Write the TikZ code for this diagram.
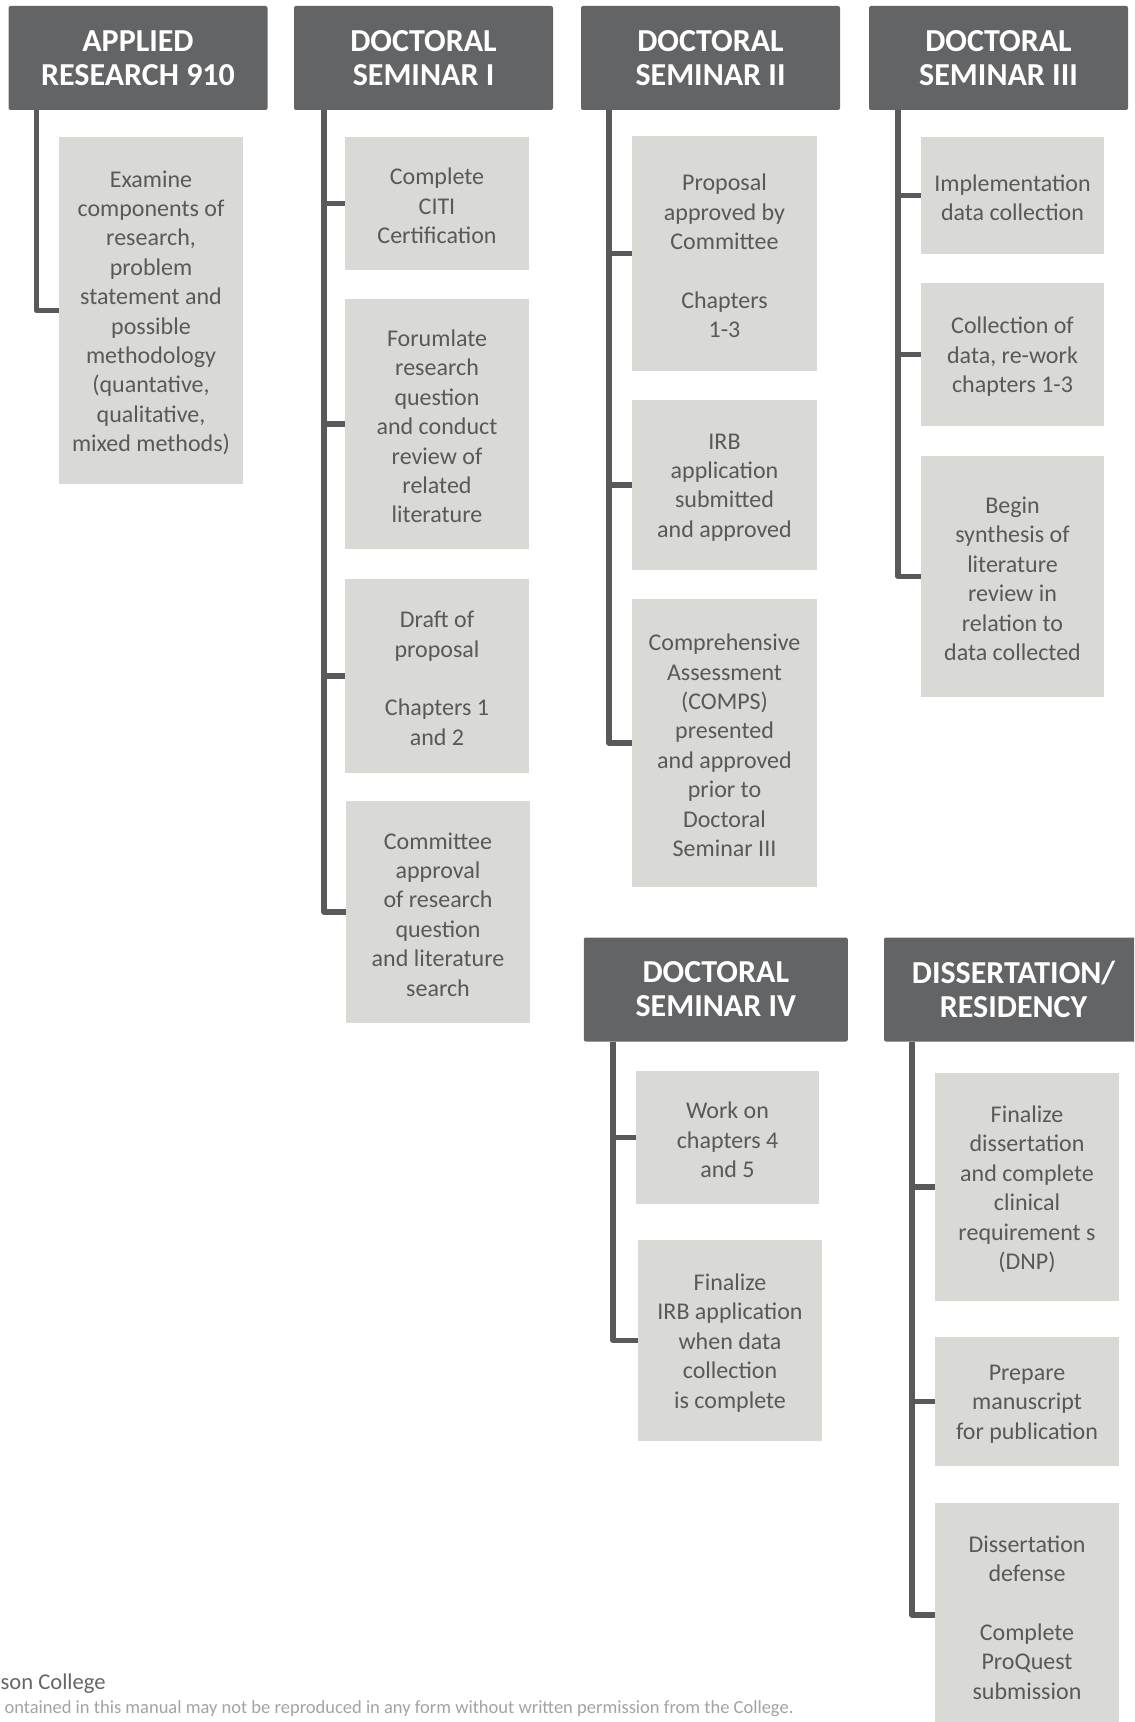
\documentclass[tikz,border=0pt]{standalone}
\usepackage{fontspec}
\setmainfont{Carlito}
\definecolor{hdrgray}{HTML}{636466}
\definecolor{boxgray}{HTML}{D9D9D6}
\definecolor{txtgray}{HTML}{595959}
\definecolor{linegray}{HTML}{58595B}
\definecolor{footgray}{HTML}{A3A3A3}
\definecolor{foot1gray}{HTML}{666666}
\newcommand\stepitem[6]{%
  \node[item, minimum width=#4, minimum height=#5] (#1) at (#2,#3) {};
  \node[itemtxt] (#1t) at ([yshift=-1.2pt]#1.center) {#6};}
\begin{document}
\begin{tikzpicture}[x=0.5pt,y=-0.5pt,
  hdr/.style={fill=hdrgray, text=white, font=\bfseries\fontsize{16}{17}\selectfont, align=center,
    minimum width=129.5pt, minimum height=52pt, rounded corners=1pt, inner sep=0pt},
  item/.style={fill=boxgray, inner sep=0pt},
  itemtxt/.style={text=txtgray, font=\fontsize{12}{14.7}\selectfont, align=center, inner sep=0pt},
  conn/.style={draw=linegray, line width=2.6pt, line join=round},
  foot/.style={anchor=base east, inner sep=0pt}]
\clip (0,0) rectangle (1134,1722);
\fill[white] (0,0) rectangle (1134,1722);

% headers
\node[hdr] (h1) at (138,58) {APPLIED\\RESEARCH 910};
\node[hdr] (h2) at (423.5,58) {DOCTORAL\\SEMINAR I};
\node[hdr] (h3) at (710.5,58) {DOCTORAL\\SEMINAR II};
\node[hdr] (h4) at (998.5,58) {DOCTORAL\\SEMINAR III};
\node[hdr, minimum width=132pt] (h5) at (715.8,989.5) {DOCTORAL\\SEMINAR IV};
\node[hdr] (h6) at (1013.5,989.5) {DISSERTATION/\\RESIDENCY};

% items
\stepitem{b1}{151}{310.5}{92pt}{173.5pt}{Examine\\components of\\research,\\problem\\statement and\\possible\\methodology\\(quantative,\\qualitative,\\mixed methods)}

\stepitem{b2a}{437}{203.5}{92pt}{66.5pt}{Complete\\CITI\\Certification}
\stepitem{b2b}{437}{424}{92pt}{125pt}{Forumlate\\research\\question\\and conduct\\review of\\related\\literature}
\stepitem{b2c}{437}{676}{92pt}{97pt}{Draft of\\proposal\\[14.7pt]Chapters 1\\and 2}
\stepitem{b2d}{438}{912}{92pt}{111pt}{Committee\\approval\\of research\\question\\and literature\\search}

\stepitem{b3a}{724.5}{253.5}{92.5pt}{117.5pt}{Proposal\\approved by\\Committee\\[14.7pt]Chapters\\1-3}
\stepitem{b3b}{724.5}{485}{92.5pt}{85pt}{IRB\\application\\submitted\\and approved}
\stepitem{b3c}{724.5}{743}{92.5pt}{144pt}{Comprehensive\\Assessment\\(COMPS)\\presented\\and approved\\prior to\\Doctoral\\Seminar III}

\stepitem{b4a}{1012.5}{195.5}{91.5pt}{58.5pt}{Implementation\\data collection}
\stepitem{b4b}{1012.5}{354.5}{91.5pt}{71.5pt}{Collection of\\data, re-work\\chapters 1-3}
\stepitem{b4c}{1012.5}{576.5}{91.5pt}{120.5pt}{Begin\\synthesis of\\literature\\review in\\relation to\\data collected}

\stepitem{b5a}{727.5}{1137.5}{91.5pt}{66.5pt}{Work on\\chapters 4\\and 5}
\stepitem{b5b}{730}{1340.5}{92pt}{100.5pt}{Finalize\\IRB application\\when data\\collection\\is complete}

\stepitem{b6a}{1027}{1187}{92pt}{114pt}{Finalize\\dissertation\\and complete\\clinical\\requirement s\\(DNP)}
\stepitem{b6b}{1027}{1401.5}{92pt}{64.5pt}{Prepare\\manuscript\\for publication}
\stepitem{b6c}{1027}{1615}{92pt}{112pt}{Dissertation\\defense\\[14.7pt]Complete\\ProQuest\\submission}

% trunks
\coordinate (t1) at (36.5,0);
\coordinate (t2) at (324,0);
\coordinate (t3) at (609,0);
\coordinate (t4) at (898,0);
\coordinate (t5) at (613,0);
\coordinate (t6) at (912,0);

\draw[conn] (h1.south -| t1) |- (b1.west);

\draw[conn] (h2.south -| t2) |- (b2a.west);
\draw[conn] (h2.south -| t2) |- (b2b.west);
\draw[conn] (h2.south -| t2) |- (b2c.west);
\draw[conn] (h2.south -| t2) |- (b2d.west);

\draw[conn] (h3.south -| t3) |- (b3a.west);
\draw[conn] (h3.south -| t3) |- (b3b.west);
\draw[conn] (h3.south -| t3) |- (b3c.west);

\draw[conn] (h4.south -| t4) |- (b4a.west);
\draw[conn] (h4.south -| t4) |- (b4b.west);
\draw[conn] (h4.south -| t4) |- (b4c.west);

\draw[conn] (h5.south -| t5) |- (b5a.west);
\draw[conn] (h5.south -| t5) |- (b5b.west);

\draw[conn] (h6.south -| t6) |- (b6a.west);
\draw[conn] (h6.south -| t6) |- (b6b.west);
\draw[conn] (h6.south -| t6) |- (b6c.west);

% footer
\node[foot, text=foot1gray, font=\fontsize{11.3}{12}\selectfont] (f1) at (106,1689) {son College};
\node[foot, text=footgray, font=\fontsize{9.25}{10}\selectfont] (f2) at (794,1713) {ontained in this manual may not be reproduced in any form without written permission from the College.};
\end{tikzpicture}
\end{document}
